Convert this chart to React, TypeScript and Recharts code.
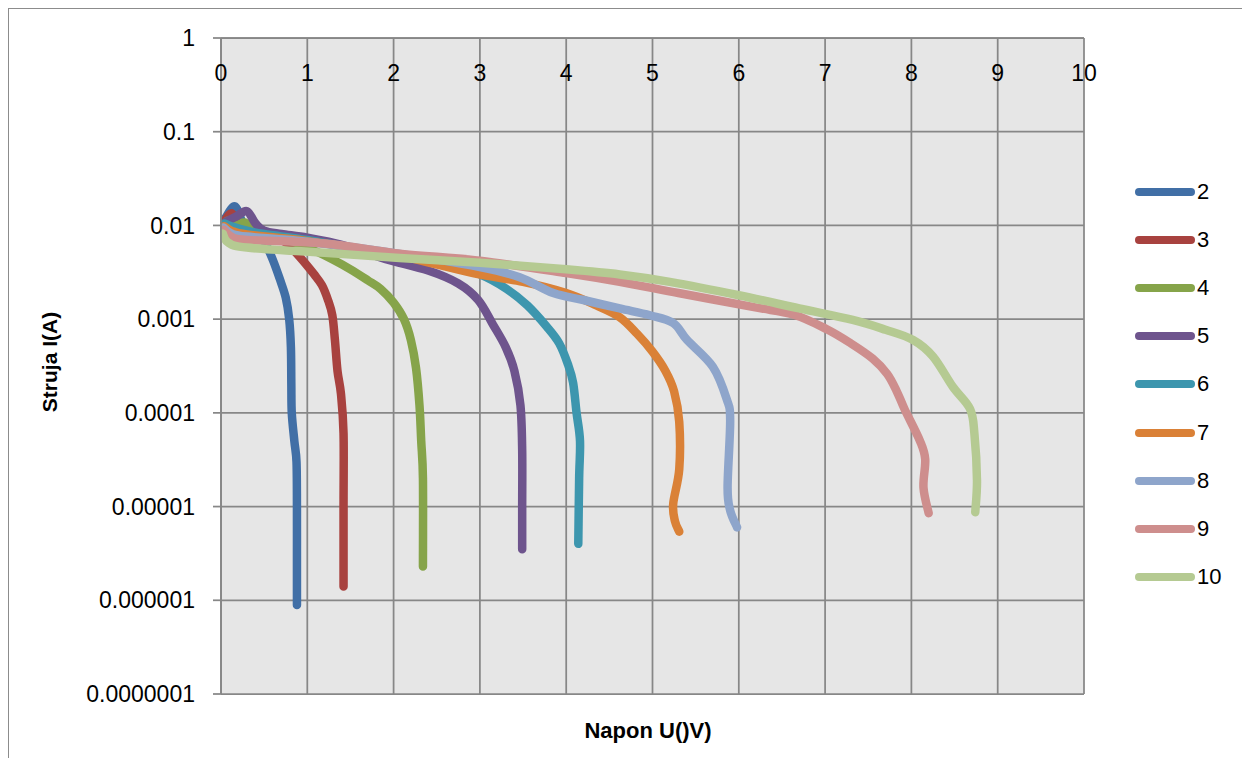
import React from "react";
import { LineChart, Line, XAxis, YAxis, CartesianGrid } from "recharts";

// ---------- data (U in volts, I in amperes) ----------
const S2: [number, number][] = [[0.05,0.012],[0.16,0.016],[0.25,0.0108],[0.35,0.0092],[0.45,0.0079],[0.52,0.0063],[0.6,0.0043],[0.68,0.0027],[0.75,0.0017],[0.79,0.001],[0.81,0.0005],[0.815,0.0002],[0.82,0.0001],[0.85,0.00005],[0.875,0.00003],[0.88,0.00001],[0.88,0.000003],[0.88,0.00000089]];
const S3: [number, number][] = [[0.05,0.0115],[0.12,0.0135],[0.2,0.0108],[0.35,0.009],[0.55,0.0079],[0.75,0.0066],[0.87,0.0051],[0.98,0.0039],[1.08,0.003],[1.17,0.0023],[1.24,0.0016],[1.29,0.0011],[1.32,0.0006],[1.35,0.00028],[1.39,0.00016],[1.42,0.00006],[1.42,0.00001],[1.42,0.0000014]];
const S4: [number, number][] = [[0.07,0.0112],[0.18,0.0102],[0.28,0.0107],[0.4,0.0088],[0.6,0.0077],[0.9,0.0064],[1.1,0.0053],[1.3,0.0043],[1.5,0.0034],[1.7,0.0026],[1.85,0.0021],[2.0,0.0015],[2.12,0.001],[2.2,0.0006],[2.26,0.0003],[2.3,0.00012],[2.32,0.00005],[2.34,0.00002],[2.34,0.0000023]];
const S5: [number, number][] = [[0.06,0.011],[0.18,0.0125],[0.3,0.0142],[0.4,0.0105],[0.5,0.0088],[0.7,0.0081],[1.0,0.0074],[1.4,0.0062],[1.9,0.0044],[2.4,0.0033],[2.75,0.0024],[2.98,0.0016],[3.15,0.00088],[3.3,0.0005],[3.4,0.00028],[3.47,0.00012],[3.49,0.00004],[3.49,0.00001],[3.49,0.0000035]];
const S6: [number, number][] = [[0.04,0.0105],[0.12,0.0098],[0.3,0.0088],[0.5,0.0081],[1.0,0.007],[1.5,0.0058],[2.0,0.0049],[2.31,0.0044],[2.7,0.0036],[3.0,0.003],[3.31,0.0021],[3.55,0.0014],[3.78,0.00082],[3.92,0.00055],[4.02,0.00033],[4.08,0.00021],[4.12,0.0001],[4.16,0.00005],[4.15,0.00002],[4.14,0.000004]];
const S7: [number, number][] = [[0.04,0.0098],[0.12,0.0088],[0.3,0.008],[1.0,0.0068],[2.0,0.0049],[2.92,0.0031],[3.5,0.0025],[4.0,0.0019],[4.35,0.0014],[4.62,0.00105],[4.82,0.0007],[5.0,0.00045],[5.15,0.00028],[5.25,0.00017],[5.31,0.00008],[5.31,0.000025],[5.24,0.0000107],[5.26,0.000007],[5.31,0.0000054]];
const S8: [number, number][] = [[0.03,0.0095],[0.12,0.0082],[0.3,0.0076],[1.0,0.0067],[2.0,0.0051],[3.0,0.0036],[3.46,0.0028],[3.85,0.0019],[4.2,0.0016],[4.62,0.0013],[4.97,0.0011],[5.24,0.00091],[5.4,0.0006],[5.7,0.00031],[5.86,0.00014],[5.9,0.000083],[5.87,0.000016],[5.9,0.0000091],[5.98,0.000006]];
const S9: [number, number][] = [[0.03,0.009],[0.12,0.0076],[0.3,0.007],[1.2,0.0064],[2.07,0.005],[3.0,0.0042],[4.0,0.0031],[4.62,0.0025],[5.3,0.0019],[6.16,0.00135],[6.63,0.00112],[7.02,0.00078],[7.3,0.00055],[7.55,0.00038],[7.72,0.00026],[7.83,0.00017],[7.92,0.00011],[8.1,0.00005],[8.16,0.000032],[8.14,0.000016],[8.2,0.0000085]];
const S10: [number, number][] = [[0.02,0.0082],[0.08,0.0066],[0.3,0.0058],[1.2,0.0051],[2.07,0.0045],[3.0,0.004],[4.0,0.0034],[4.62,0.003],[5.2,0.0025],[6.0,0.0018],[6.7,0.0013],[7.32,0.00098],[7.7,0.00077],[8.02,0.0006],[8.25,0.0004],[8.48,0.00019],[8.68,0.00011],[8.73,0.00006],[8.76,0.000019],[8.74,0.0000087]];

const SERIES_NAMES = ["2", "3", "4", "5", "6", "7", "8", "9", "10"];
const SERIES_DATA = [S2, S3, S4, S5, S6, S7, S8, S9, S10];
const COLORS = ["#416FA6", "#A8423F", "#86A44A", "#6E548D", "#3D96AE", "#DA8137", "#8EA5CB", "#CE8E8D", "#B5CA92"];

const X_TICKS = [0, 1, 2, 3, 4, 5, 6, 7, 8, 9, 10];
const Y_TICKS = [1, 0.1, 0.01, 0.001, 0.0001, 0.00001, 0.000001, 0.0000001];
const Y_TICK_LABELS = ["1", "0.1", "0.01", "0.001", "0.0001", "0.00001", "0.000001", "0.0000001"];

const X_TITLE = "Napon U()V)";
const Y_TITLE = "Struja I(A)";

// ---------- layout ----------
const W = 1242;
const H = 750;
const PLOT_LEFT = 213;
const PLOT_TOP = 30;
const PLOT_RIGHT = 1076;
const PLOT_BOTTOM = 686;
const FONT = '"Liberation Sans", Arial, sans-serif';
const GRID = "#878787";

// smooth curve (Catmull-Rom style) similar to spreadsheet smoothed lines
function smoothCurve(context: any) {
  let pts: number[][] = [];
  return {
    areaStart() {},
    areaEnd() {},
    lineStart() { pts = []; },
    lineEnd() {
      if (!pts.length) return;
      context.moveTo(pts[0][0], pts[0][1]);
      const t = 1 / 6;
      for (let i = 0; i < pts.length - 1; i++) {
        const p0 = pts[i - 1] || pts[i];
        const p1 = pts[i];
        const p2 = pts[i + 1];
        const p3 = pts[i + 2] || p2;
        context.bezierCurveTo(
          p1[0] + (p2[0] - p0[0]) * t, p1[1] + (p2[1] - p0[1]) * t,
          p2[0] - (p3[0] - p1[0]) * t, p2[1] - (p3[1] - p1[1]) * t,
          p2[0], p2[1]
        );
      }
    },
    point(x: number, y: number) { pts.push([+x, +y]); },
  };
}

const XTick = (props: any) => {
  const { x, payload } = props;
  return (
    <text x={x} y={PLOT_TOP + 35} textAnchor="middle" dominantBaseline="central"
      fontFamily={FONT} fontSize={23} fill="#000">
      {payload.value}
    </text>
  );
};

const yFormat = (v: number) => {
  const idx = Y_TICKS.indexOf(v);
  return idx >= 0 ? Y_TICK_LABELS[idx] : String(v);
};

export default function App() {
  return (
    <div style={{ position: "relative", width: W, height: H, fontFamily: FONT }}>
      <style>{`body{overflow:hidden}`}</style>
      <div style={{ position: "absolute", left: 0, top: 0, width: W, height: H, boxSizing: "border-box",
        borderTop: "1px solid #8c8c8c", borderLeft: "1px solid #8c8c8c", borderRight: "1px solid #8c8c8c" }} />
      <LineChart width={W} height={H}
        margin={{ top: 0, left: 0, right: W - PLOT_RIGHT, bottom: H - PLOT_BOTTOM }}>
        <CartesianGrid stroke={GRID} strokeWidth={1.75} fill="#e6e6e6" fillOpacity={1}
          horizontalValues={Y_TICKS} verticalValues={X_TICKS} />
        <XAxis type="number" dataKey="u" orientation="top" height={PLOT_TOP}
          domain={[0, 10]} ticks={X_TICKS} interval={0} allowDataOverflow
          axisLine={{ stroke: GRID, strokeWidth: 1.75 }} tickLine={false} tick={<XTick />} />
        <YAxis type="number" dataKey="i" scale="log" domain={[0.0000001, 1]} ticks={Y_TICKS}
          interval={0} allowDataOverflow width={PLOT_LEFT} tickFormatter={yFormat}
          tickSize={8} tickMargin={18}
          axisLine={{ stroke: GRID, strokeWidth: 1.75 }} tickLine={{ stroke: GRID, strokeWidth: 1.75 }}
          tick={{ fontFamily: FONT, fontSize: 23, fill: "#000" }} />
        {SERIES_DATA.map((s, k) => (
          <Line key={SERIES_NAMES[k]} name={SERIES_NAMES[k]}
            data={s.map(([u, i]) => ({ u, i }))} dataKey="i"
            type={smoothCurve as any} stroke={COLORS[k]} strokeWidth={8.5}
            strokeLinecap="round" strokeLinejoin="round"
            dot={false} activeDot={false} isAnimationActive={false} />
        ))}
      </LineChart>

      {/* axis titles */}
      <div style={{ position: "absolute", left: 648 - 8 - 150, top: 731 - 8 - 14, width: 300, textAlign: "center",
        fontWeight: "bold", fontSize: 22, lineHeight: "28px", color: "#000" }}>{X_TITLE}</div>
      <div style={{ position: "absolute", left: 50 - 8 - 150, top: 362 - 8 - 14, width: 300, textAlign: "center",
        fontWeight: "bold", fontSize: 21, lineHeight: "28px", color: "#000", transform: "rotate(-90deg)" }}>{Y_TITLE}</div>

      {/* legend */}
      {SERIES_NAMES.map((n, k) => (
        <div key={n} style={{ position: "absolute", left: 1127, top: 184 + k * 48.1 - 14, height: 28,
          display: "flex", alignItems: "center" }}>
          <div style={{ width: 60, height: 8, borderRadius: 4, background: COLORS[k] }} />
          <span style={{ marginLeft: 2, fontSize: 22, color: "#000" }}>{n}</span>
        </div>
      ))}
    </div>
  );
}
